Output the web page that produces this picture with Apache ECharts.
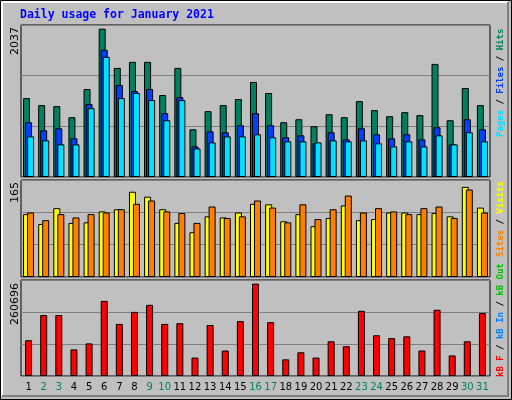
<!DOCTYPE html>
<html><head><meta charset="utf-8">
<script src="https://cdn.jsdelivr.net/npm/echarts@6/dist/echarts.min.js"></script>
<style>html,body{margin:0;padding:0;background:#c0c0c0}#c{width:512px;height:400px}</style>
</head><body><div id="c"></div>
<script>
const days = Array.from({length:31},(_,i)=>String(i+1));
const weekendDays = ['2','3','9','10','16','17','23','24','30','31'];
const hits  = [1083,987,973,821,1208,2037,1498,1581,1581,1125,1498,655,904,987,1070,1305,1153,752,793,697,862,821,1042,918,835,890,849,1553,779,1222,987];
const files = [752,641,669,531,1001,1747,1263,1180,1208,876,1097,420,627,614,710,876,710,545,572,462,614,517,669,586,531,586,517,683,448,793,655];
const pages = [558,503,448,448,945,1650,1083,1153,1056,779,1056,392,475,558,558,586,545,489,489,475,503,489,503,462,420,489,420,572,448,614,489];
const visits = [115,97,126,99,100,120,124,156,147,124,99,82,111,109,118,134,133,102,115,93,108,131,104,106,118,118,115,117,111,165,127];
const sites  = [118,104,115,109,115,118,124,134,140,120,117,99,129,108,111,140,127,100,133,106,124,149,118,126,120,115,126,129,108,160,118];
const kbytes = [101000,172000,172000,75000,92000,212000,147000,181000,201000,147000,149000,52000,144000,72000,155000,260696,152000,47000,67000,52000,98000,84000,184000,115000,107000,112000,72000,187000,58000,98000,178000];
const maxLabels = ['2037','165','260696'];

const topMax = 2087, midMax = 177.5, botMax = 271000;
const grids = [
  {left:21, right:22, top:25, height:152},
  {left:21, right:22, top:180, height:97},
  {left:21, right:22, top:280, height:96}
].map(g=>Object.assign(g,{show:true,backgroundColor:'#c0c0c0',borderColor:'#000',borderWidth:1}));
function xa(i){return {type:'category',data:days,gridIndex:i,axisTick:{show:false},axisLine:{show:false},
  axisLabel:{show:i===2,interval:0,fontFamily:'DejaVu Sans',fontSize:10,margin:6,
  color:(v)=>weekendDays.includes(v)?'#00806a':'#000'}};}
function ya(i,m){return {type:'value',gridIndex:i,min:0,max:m,interval:m/3,axisLabel:{show:false},
  axisLine:{show:false},axisTick:{show:false},splitLine:{lineStyle:{color:'#808080',width:1}}};}
const bs = {type:'bar',barWidth:7,animation:false,silent:true};
const mono = 'DejaVu Sans Mono';
const option = {
  animation:false,
  backgroundColor:'#c0c0c0',
  grid:grids,
  xAxis:[xa(0),xa(1),xa(2)],
  yAxis:[ya(0,topMax),ya(1,midMax),ya(2,botMax)],
  series:[
    Object.assign({},bs,{name:'Hits',data:hits,xAxisIndex:0,yAxisIndex:0,barGap:'-71%',itemStyle:{color:'#008060',borderColor:'#000',borderWidth:1}}),
    Object.assign({},bs,{name:'Files',data:files,xAxisIndex:0,yAxisIndex:0,barGap:'-71%',itemStyle:{color:'#0040ff',borderColor:'#000',borderWidth:1}}),
    Object.assign({},bs,{name:'Pages',data:pages,xAxisIndex:0,yAxisIndex:0,barGap:'-71%',itemStyle:{color:'#00e0ff',borderColor:'#000',borderWidth:1}}),
    Object.assign({},bs,{name:'Visits',data:visits,xAxisIndex:1,yAxisIndex:1,barGap:'-43%',itemStyle:{color:'#ffff00',borderColor:'#000',borderWidth:1}}),
    Object.assign({},bs,{name:'Sites',data:sites,xAxisIndex:1,yAxisIndex:1,barGap:'-43%',itemStyle:{color:'#ff8000',borderColor:'#000',borderWidth:1}}),
    Object.assign({},bs,{name:'kB F',data:kbytes,xAxisIndex:2,yAxisIndex:2,itemStyle:{color:'#ff0000',borderColor:'#000',borderWidth:1}})
  ],
  graphic:[
    {type:'rect',shape:{x:0.5,y:0.5,width:511,height:399},style:{fill:'none',stroke:'#000',lineWidth:1},z:-1},
    {type:'polyline',shape:{points:[[2,396],[2,2],[508,2]]},style:{stroke:'#fff',fill:'none',lineWidth:2}},
    {type:'polyline',shape:{points:[[508,2],[508,396],[2,396]]},style:{stroke:'#808080',fill:'none',lineWidth:2}},
    {type:'text',x:20,y:9,style:{text:'Daily usage for January 2021',fill:'#0000ff',font:'bold 11.5px "'+mono+'"'}},
    {type:'text',x:15,y:27,rotation:Math.PI/2,style:{text:maxLabels[0],fill:'#000',font:'11px "DejaVu Sans"',align:'right',verticalAlign:'middle'}},
    {type:'text',x:15,y:182,rotation:Math.PI/2,style:{text:maxLabels[1],fill:'#000',font:'11px "DejaVu Sans"',align:'right',verticalAlign:'middle'}},
    {type:'text',x:15,y:283,rotation:Math.PI/2,style:{text:maxLabels[2],fill:'#000',font:'11px "DejaVu Sans"',align:'right',verticalAlign:'middle'}},
    {type:'text',x:501,y:137,rotation:Math.PI/2,style:{text:'{p|Pages} / {f|Files} / {h|Hits}',fill:'#000',font:'bold 9px "'+mono+'"',align:'left',verticalAlign:'middle',
      rich:{p:{fill:'#00e0ff',font:'bold 9px "'+mono+'"'},f:{fill:'#0040ff',font:'bold 9px "'+mono+'"'},h:{fill:'#008060',font:'bold 9px "'+mono+'"'}}}},
    {type:'text',x:501,y:257,rotation:Math.PI/2,style:{text:'{s|Sites} / {v|Visits}',fill:'#000',font:'bold 9px "'+mono+'"',align:'left',verticalAlign:'middle',
      rich:{s:{fill:'#ff8000',font:'bold 9px "'+mono+'"'},v:{fill:'#ffff00',font:'bold 9px "'+mono+'"'}}}},
    {type:'text',x:501,y:377,rotation:Math.PI/2,style:{text:'{r|kB F} / {b|kB In} / {g|kB Out}',fill:'#000',font:'bold 9px "'+mono+'"',align:'left',verticalAlign:'middle',
      rich:{r:{fill:'#ff0000',font:'bold 9px "'+mono+'"'},b:{fill:'#0080ff',font:'bold 9px "'+mono+'"'},g:{fill:'#00c000',font:'bold 9px "'+mono+'"'}}}}
  ]
};
echarts.init(document.getElementById('c')).setOption(option);
</script></body></html>
